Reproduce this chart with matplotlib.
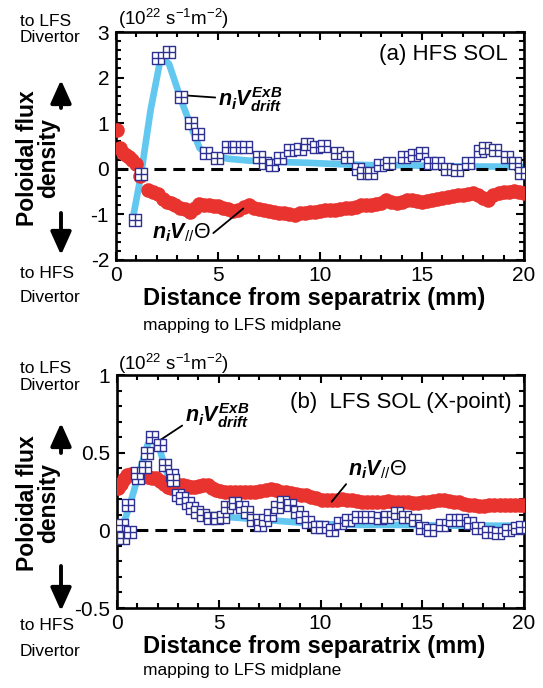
import matplotlib
matplotlib.use("Agg")
import matplotlib.pyplot as plt
from matplotlib.path import Path
from matplotlib.patches import FancyArrowPatch
from matplotlib.ticker import MultipleLocator, FixedLocator

plt.rcParams['font.family'] = ['Liberation Sans', 'DejaVu Sans']
plt.rcParams['mathtext.fontset'] = 'custom'
plt.rcParams['mathtext.rm'] = 'Liberation Sans'
plt.rcParams['mathtext.it'] = 'Liberation Sans:italic:bold'
plt.rcParams['mathtext.bf'] = 'Liberation Sans:bold'
plt.rcParams['axes.unicode_minus'] = False

# ---------------- (a) HFS SOL ----------------
a_exb_x = [0.93, 1.21, 2.04, 2.61, 3.19, 3.66, 4.04, 4.41, 4.97, 5.47, 5.90, 6.36,
           7.03, 7.30, 7.63, 8.04, 8.53, 9.00, 9.35, 9.80, 10.20, 10.85, 11.34,
           11.88, 12.10, 12.50, 12.94, 13.40, 14.10, 14.60, 15.00, 15.40, 15.80,
           16.24, 16.70, 17.27, 17.84, 18.10, 18.57, 19.15, 19.56, 19.84]
a_exb_y = [-1.12, -0.12, 2.42, 2.56, 1.58, 1.01, 0.76, 0.34, 0.23, 0.48, 0.48, 0.48,
           0.26, 0.12, 0.08, 0.23, 0.41, 0.43, 0.55, 0.48, 0.50, 0.35, 0.26,
           0.00, -0.10, -0.10, 0.08, 0.12, 0.26, 0.30, 0.34, 0.12, 0.12,
           0.00, -0.03, 0.12, 0.38, 0.45, 0.41, 0.26, 0.12, -0.09]

a_fit_x = [0.8, 1.2, 1.7, 2.2, 2.6, 3.2, 3.7, 4.1, 4.6, 5.5, 6.5, 8.0, 9.5, 11.0,
           12.5, 14.0, 15.5, 17.0, 18.5, 20.0]
a_fit_y = [-1.15, -0.2, 1.3, 2.45, 2.3, 1.5, 0.9, 0.45, 0.3, 0.22, 0.18, 0.15, 0.13,
           0.10, 0.08, 0.08, 0.06, 0.05, 0.05, 0.04]

a_par_x = [0.05, 0.2, 0.35, 0.5, 0.65, 0.8, 1.0, 1.2, 1.55, 1.8, 2.05, 2.3, 2.5, 2.7,
           2.9, 3.15, 3.4, 3.65, 3.85, 4.05, 4.3, 4.55, 4.8, 5.0, 5.25, 5.5, 5.75,
           6.0, 6.25, 6.5, 6.75, 7.0, 7.25, 7.5, 7.75, 8.0, 8.25, 8.5, 8.75, 9.0,
           9.25, 9.5, 9.75, 10.0, 10.25, 10.5, 10.75, 11.0, 11.25, 11.5, 11.75,
           12.0, 12.25, 12.5, 12.75, 13.0, 13.25, 13.5, 13.75, 14.0, 14.25, 14.5,
           14.75, 15.0, 15.25, 15.5, 15.75, 16.0, 16.25, 16.5, 16.75, 17.0, 17.25,
           17.5, 17.75, 18.0, 18.25, 18.5, 18.75, 19.0, 19.25, 19.5, 19.75, 20.0]
a_par_y = [0.85, 0.45, 0.35, 0.30, 0.25, 0.20, 0.10, -0.15, -0.46, -0.50, -0.56,
           -0.66, -0.72, -0.76, -0.80, -0.86, -0.89, -0.94, -0.85, -0.78, -0.80,
           -0.80, -0.82, -0.82, -0.85, -0.89, -0.93, -0.90, -0.84, -0.80, -0.85,
           -0.88, -0.90, -0.92, -0.94, -0.96, -0.98, -1.00, -1.01, -0.98, -0.96,
           -0.94, -0.94, -0.92, -0.90, -0.90, -0.90, -0.88, -0.87, -0.86, -0.83,
           -0.80, -0.80, -0.79, -0.78, -0.74, -0.68, -0.73, -0.75, -0.72, -0.68,
           -0.69, -0.71, -0.72, -0.70, -0.68, -0.66, -0.64, -0.61, -0.60, -0.58,
           -0.57, -0.55, -0.53, -0.58, -0.63, -0.68, -0.58, -0.53, -0.51, -0.50,
           -0.49, -0.50, -0.53]

# ---------------- (b) LFS SOL (X-point) ----------------
b_exb_x = [0.23, 0.31, 0.64, 0.56, 1.05, 0.97, 1.38, 1.46, 1.70, 2.11, 2.36, 2.69,
           2.77, 3.01, 3.18, 3.50, 3.67, 3.92, 4.24, 4.57, 4.90, 5.22, 5.39, 5.80,
           6.13, 6.37, 6.70, 7.03, 7.27, 7.52, 7.85, 8.17, 8.50, 8.83, 9.08, 9.40,
           9.81, 10.06, 10.55, 10.96, 11.37, 11.86, 12.35, 12.92, 13.25, 13.74,
           14.15, 14.64, 14.97, 15.38, 15.96, 16.45, 16.94, 17.35, 17.75, 18.25,
           18.74, 19.23, 19.64, 19.89]
b_exb_y = [0.034, -0.05, -0.01, 0.163, 0.335, 0.367, 0.41, 0.496, 0.60, 0.55, 0.42,
           0.356, 0.324, 0.227, 0.206, 0.174, 0.142, 0.12, 0.099, 0.077, 0.077,
           0.088, 0.152, 0.174, 0.152, 0.12, 0.066, 0.034, 0.066, 0.099, 0.152,
           0.184, 0.163, 0.12, 0.088, 0.055, 0.023, 0.023, 0.0, 0.045, 0.066,
           0.088, 0.088, 0.077, 0.088, 0.109, 0.088, 0.066, 0.013, 0.002, 0.034,
           0.066, 0.066, 0.045, 0.013, -0.009, -0.02, 0.002, 0.013, 0.023]

b_fit_x = [0.2, 0.6, 1.0, 1.5, 1.7, 2.1, 2.5, 3.0, 3.5, 4.0, 5.0, 6.0, 7.0, 8.0,
           9.0, 10.0, 12.0, 14.0, 16.0, 18.0, 20.0]
b_fit_y = [0.0, 0.15, 0.33, 0.55, 0.60, 0.52, 0.35, 0.22, 0.15, 0.11, 0.09, 0.08,
           0.07, 0.06, 0.05, 0.04, 0.035, 0.035, 0.03, 0.03, 0.03]

b_par_x = [0.05, 0.2, 0.35, 0.5, 0.7, 0.9, 1.1, 1.3, 1.5, 1.7, 1.9, 2.1, 2.3, 2.5,
           2.65, 2.85, 3.05, 3.25, 3.45, 3.65, 3.85, 4.05, 4.25, 4.45, 4.65, 4.85,
           5.05, 5.3, 5.55, 5.8, 6.05, 6.3, 6.55, 6.8, 7.05, 7.3, 7.55, 7.8, 8.05,
           8.3, 8.55, 8.8, 9.05, 9.3, 9.55, 9.8, 10.05, 10.3, 10.55, 10.8, 11.05,
           11.3, 11.55, 11.8, 12.05, 12.3, 12.55, 12.8, 13.05, 13.3, 13.55, 13.8,
           14.05, 14.3, 14.55, 14.8, 15.05, 15.3, 15.55, 15.8, 16.05, 16.3, 16.55,
           16.8, 17.05, 17.3, 17.55, 17.8, 18.05, 18.3, 18.55, 18.8, 19.05, 19.3,
           19.55, 19.8, 20.0]
b_par_y = [0.27, 0.30, 0.33, 0.355, 0.36, 0.35, 0.345, 0.35, 0.345, 0.34, 0.335,
           0.32, 0.30, 0.28, 0.27, 0.285, 0.29, 0.29, 0.285, 0.28, 0.28, 0.285,
           0.29, 0.29, 0.27, 0.26, 0.255, 0.25, 0.25, 0.25, 0.25, 0.25, 0.25,
           0.25, 0.255, 0.26, 0.265, 0.26, 0.25, 0.245, 0.24, 0.235, 0.23, 0.225,
           0.215, 0.21, 0.195, 0.195, 0.195, 0.195, 0.2, 0.195, 0.195, 0.19,
           0.185, 0.185, 0.185, 0.185, 0.185, 0.19, 0.185, 0.185, 0.185, 0.18,
           0.175, 0.175, 0.18, 0.185, 0.19, 0.195, 0.195, 0.19, 0.185, 0.18, 0.17,
           0.165, 0.16, 0.155, 0.155, 0.16, 0.165, 0.165, 0.165, 0.165, 0.165,
           0.165, 0.16]

W, H = 543, 688
fig = plt.figure(figsize=(W / 100, H / 100), dpi=100)


def fx(px):
    return px / W


def fy(py):
    return 1 - py / H


# square with inner cross (grid box) marker
box = Path([(-1, -1), (1, -1), (1, 1), (-1, 1), (-1, -1),
            (0, -1), (0, 1), (-1, 0), (1, 0)],
           [Path.MOVETO, Path.LINETO, Path.LINETO, Path.LINETO, Path.CLOSEPOLY,
            Path.MOVETO, Path.LINETO, Path.MOVETO, Path.LINETO])

RED = '#e8332f'
NAVY = '#2e3192'
CYAN = '#62c8ef'


def panel(rect, ylim, ymajor, yminor, yticklabels,
          fit_x, fit_y, par_x, par_y, exb_x, exb_y):
    ax = fig.add_axes(rect)
    ax.plot(fit_x, fit_y, color=CYAN, lw=4.8, solid_capstyle='butt', zorder=1)
    ax.axhline(0, color='black', lw=2.2, dashes=(3.9, 2.3), zorder=2)
    ax.plot(par_x, par_y, 'o', ms=10.5, color=RED, mec=RED, mew=0, zorder=3)
    ax.plot(exb_x, exb_y, ls='none', marker=box, ms=8.8, mfc='white', mec=NAVY,
            mew=1.0, zorder=4)
    ax.set_xlim(0, 20)
    ax.set_ylim(*ylim)
    ax.xaxis.set_major_locator(MultipleLocator(5))
    ax.xaxis.set_minor_locator(MultipleLocator(1))
    ax.yaxis.set_major_locator(FixedLocator(ymajor))
    ax.yaxis.set_minor_locator(MultipleLocator(yminor))
    ax.set_yticklabels(yticklabels)
    ax.tick_params(which='both', direction='in', top=True, right=True,
                   width=1.5, labelsize=15)
    ax.tick_params(axis='x', pad=4)
    ax.tick_params(axis='y', pad=5)
    ax.tick_params(which='major', length=6)
    ax.tick_params(which='minor', length=3.6)
    for s in ax.spines.values():
        s.set_linewidth(1.9)
    return ax


ax1 = panel([fx(116), fy(260), fx(524) - fx(116), fy(32) - fy(260)],
            (-2, 3), [-2, -1, 0, 1, 2, 3], 0.2, ['-2', '-1', '0', '1', '2', '3'],
            a_fit_x, a_fit_y, a_par_x, a_par_y, a_exb_x, a_exb_y)
ax2 = panel([fx(117), fy(608), fx(524) - fx(117), fy(375) - fy(608)],
            (-0.5, 1), [-0.5, 0, 0.5, 1], 0.1, ['-0.5', '0', '0.5', '1'],
            b_fit_x, b_fit_y, b_par_x, b_par_y, b_exb_x, b_exb_y)

EXB = r'$n_iV_{drift}^{ExB}$'
PAR = r'$n_iV_{//}\mathrm{\Theta}$'
LINE = dict(arrowstyle='-', lw=1.3, color='black', shrinkA=0, shrinkB=0)

ax1.text(19.2, 2.5, '(a) HFS SOL', ha='right', va='center', fontsize=16)
ax1.annotate(EXB, xy=(3.05, 1.62), xytext=(5.0, 1.51), ha='left', va='center',
             fontsize=15.5, arrowprops=LINE)
ax1.annotate(PAR, xy=(6.24, -0.87), xytext=(1.75, -1.41), ha='left', va='center',
             fontsize=15.5, arrowprops=dict(LINE, relpos=(1, 0.4)))

ax2.text(19.4, 0.82, '(b)  LFS SOL (X-point)', ha='right', va='center', fontsize=16)
ax2.annotate(EXB, xy=(2.11, 0.58), xytext=(3.34, 0.742), ha='left', va='center',
             fontsize=15.5, arrowprops=dict(LINE, relpos=(0, 0.2)))
ax2.annotate(PAR, xy=(10.55, 0.184), xytext=(11.37, 0.388), ha='left', va='center',
             fontsize=15.5, arrowprops=dict(LINE, relpos=(0, 0.0)))

UNITS = r'(10$^{22}$ s$^{-1}$m$^{-2}$)'


def side_labels(xl_y, map_y, unit_y, lfs_lines, hfs_lines, lab_y, up, down):
    fig.text(fx(118), fy(unit_y), UNITS, ha='left', va='center', fontsize=13.5)
    for (y, s) in zip(lfs_lines, ('to LFS', 'Divertor')):
        fig.text(fx(20), fy(y), s, ha='left', va='center', fontsize=12.5)
    for (y, s) in zip(hfs_lines, ('to HFS', 'Divertor')):
        fig.text(fx(20), fy(y), s, ha='left', va='center', fontsize=12.5)
    fig.text(fx(38), fy(lab_y), 'Poloidal flux\ndensity', rotation=90,
             ha='center', va='center', fontsize=16.5, fontweight='bold',
             linespacing=0.9, multialignment='center')
    for (y0, y1) in (up, down):
        fig.add_artist(FancyArrowPatch(
            (fx(61), fy(y0)), (fx(61), fy(y1)), transform=fig.transFigure,
            arrowstyle='-|>,head_length=1.0,head_width=0.45', mutation_scale=14,
            lw=2.8, color='black', shrinkA=0, shrinkB=0))
    fig.text(fx(314), fy(xl_y), 'Distance from separatrix (mm)', ha='center',
             va='center', fontsize=17, fontweight='bold')
    fig.text(fx(143), fy(map_y), 'mapping to LFS midplane', ha='left',
             va='center', fontsize=12.5)


side_labels(299, 325, 19, (21, 38), (274, 297), 158, (108, 80), (213, 255))
side_labels(646, 671, 364, (369, 386), (625, 652), 503, (453, 423), (566, 611))

fig.savefig('out.png', dpi=100)
